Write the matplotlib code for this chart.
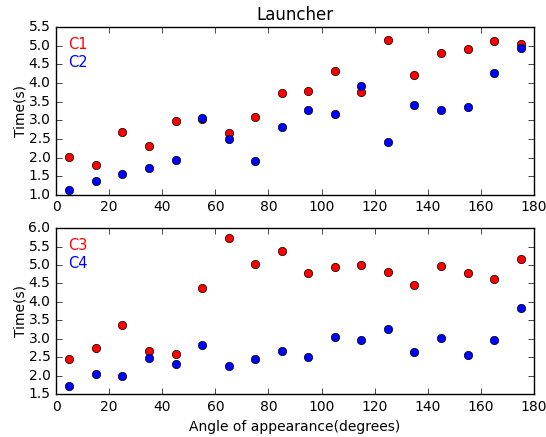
import matplotlib
matplotlib.use('Agg')
import matplotlib.pyplot as plt

angles = [5, 15, 25, 35, 45, 55, 65, 75, 85, 95, 105, 115, 125, 135, 145, 155, 165, 175]

c1 = [2.02, 1.79, 2.68, 2.31, 2.99, 3.04, 2.65, 3.09, 3.72, 3.78, 4.32, 3.76, 5.16, 4.22, 4.80, 4.90, 5.14, 5.06]
c2 = [1.13, 1.38, 1.55, 1.71, 1.93, 3.05, 2.49, 1.91, 2.83, 3.28, 3.16, 3.92, 2.43, 3.41, 3.28, 3.35, 4.28, 4.93]
c3 = [2.44, 2.74, 3.36, 2.66, 2.58, 4.38, 5.72, 5.04, 5.37, 4.79, 4.94, 5.00, 4.81, 4.46, 4.96, 4.77, 4.61, 5.17]
c4 = [1.71, 2.05, 2.00, 2.47, 2.31, 2.83, 2.27, 2.46, 2.66, 2.50, 3.04, 2.96, 3.27, 2.65, 3.02, 2.55, 2.96, 3.83]

plt.style.use('classic')
plt.rcParams['figure.facecolor'] = 'white'
plt.rcParams['savefig.facecolor'] = 'white'
plt.rcParams['font.size'] = 10

fig = plt.figure(figsize=(5.46, 4.37), dpi=100)
ax1 = fig.add_axes([0.1026, 0.554, 0.8754, 0.384])
ax2 = fig.add_axes([0.1026, 0.0984, 0.8754, 0.3796])


def panel(ax, a, b, la, lb, ylim):
    ax.plot(angles, a, 'o', color='red', markersize=6, label=la)
    ax.plot(angles, b, 'o', color='blue', markersize=6, label=lb)
    ax.set_xlim(0, 180)
    ax.set_ylim(*ylim)
    ax.set_ylabel('Time(s)', fontsize=10, labelpad=1)
    ax.tick_params(labelsize=10)
    leg = ax.legend(loc='upper left', frameon=False, handlelength=0, handletextpad=0.15,
                    markerscale=0, numpoints=1, fontsize=10.5, borderaxespad=0.3,
                    labelspacing=0.2)
    for txt, c in zip(leg.get_texts(), ['red', 'blue']):
        txt.set_color(c)


panel(ax1, c1, c2, 'C1', 'C2', (1.0, 5.5))
panel(ax2, c3, c4, 'C3', 'C4', (1.5, 6.0))
ax1.set_title('Launcher', fontsize=12)
ax2.set_xlabel('Angle of appearance(degrees)', fontsize=10)

fig.savefig('out.png', dpi=100)
